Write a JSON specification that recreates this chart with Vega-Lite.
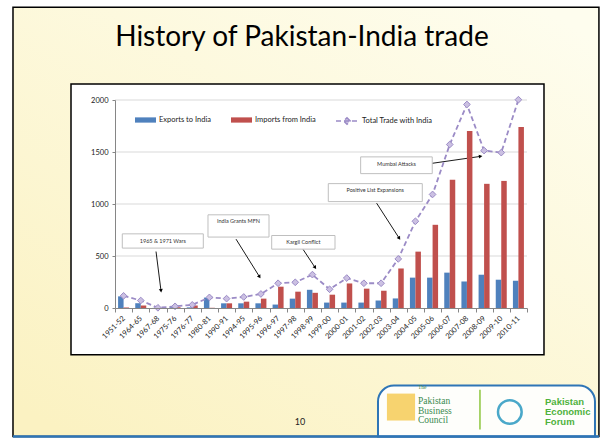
{
  "$schema": "https://vega.github.io/schema/vega-lite/v6.json",
  "width": 412,
  "height": 208,
  "autosize": {"type": "none"},
  "padding": {"left": 115, "top": 100, "right": 75, "bottom": 137},
  "background": "white",
  "config": {"font": "Lato", "view": {"stroke": null}},
  "datasets": {
    "trade": [
      {"year": "1951-52", "exports": 112, "imports": 5, "total": 117},
      {"year": "1964-65", "exports": 46, "imports": 24, "total": 72},
      {"year": "1967-68", "exports": 1, "imports": 1, "total": 2},
      {"year": "1975-76", "exports": 8, "imports": 8, "total": 16},
      {"year": "1976-77", "exports": 6, "imports": 24, "total": 30},
      {"year": "1980-81", "exports": 100, "imports": 2, "total": 102},
      {"year": "1990-91", "exports": 45, "imports": 45, "total": 90},
      {"year": "1994-95", "exports": 45, "imports": 61, "total": 106},
      {"year": "1995-96", "exports": 45, "imports": 90, "total": 135},
      {"year": "1996-97", "exports": 33, "imports": 205, "total": 238},
      {"year": "1997-98", "exports": 90, "imports": 157, "total": 247},
      {"year": "1998-99", "exports": 175, "imports": 146, "total": 321},
      {"year": "1999-00", "exports": 52, "imports": 128, "total": 180},
      {"year": "2000-01", "exports": 52, "imports": 236, "total": 288},
      {"year": "2001-02", "exports": 52, "imports": 186, "total": 238},
      {"year": "2002-03", "exports": 72, "imports": 166, "total": 238},
      {"year": "2003-04", "exports": 92, "imports": 380, "total": 472},
      {"year": "2004-05", "exports": 292, "imports": 542, "total": 834},
      {"year": "2005-06", "exports": 292, "imports": 800, "total": 1092},
      {"year": "2006-07", "exports": 340, "imports": 1232, "total": 1572},
      {"year": "2007-08", "exports": 255, "imports": 1702, "total": 1957},
      {"year": "2008-09", "exports": 320, "imports": 1194, "total": 1514},
      {"year": "2009-10", "exports": 272, "imports": 1222, "total": 1494},
      {"year": "2010-11", "exports": 262, "imports": 1741, "total": 2003}
    ],
    "notes": [
      {"label": "1965 & 1971 Wars", "bx1": 0.425, "bx2": 5.144, "by1": 576, "by2": 713, "tx": 2.785, "ty": 644, "ax1": 2.39, "ay1": 543, "ax2": 2.68, "ay2": 165},
      {"label": "India Grants MFN", "bx1": 5.417, "bx2": 8.971, "by1": 682, "by2": 896, "tx": 7.194, "ty": 838, "ax1": 7.05, "ay1": 662, "ax2": 8.42, "ay2": 300},
      {"label": "Kargil Conflict", "bx1": 9.128, "bx2": 12.816, "by1": 566, "by2": 697, "tx": 10.97, "ty": 637, "ax1": 10.97, "ay1": 560, "ax2": 11.66, "ay2": 388},
      {"label": "Positive List Expansions", "bx1": 12.425, "bx2": 17.9, "by1": 1023, "by2": 1196, "tx": 15.16, "ty": 1133, "ax1": 15.24, "ay1": 1008, "ax2": 16.56, "ay2": 670},
      {"label": "Mumbai Attacks", "bx1": 14.31, "bx2": 18.48, "by1": 1292, "by2": 1453, "tx": 16.4, "ty": 1380, "ax1": 18.51, "ay1": 1392, "ax2": 21.3, "ay2": 1458}
    ],
    "grid": [{"v": 500}, {"v": 1000}, {"v": 1500}, {"v": 2000}],
    "one": [{}]
  },
  "layer": [
    {
      "data": {"name": "one"},
      "layer": [
        {
          "mark": {"type": "rect", "clip": false, "stroke": "#000000", "strokeWidth": 1.5,
            "color": {"gradient": "linear", "x1": 0.9, "y1": 0, "x2": 0.1, "y2": 1, "stops": [{"offset": 0, "color": "#fefdee"}, {"offset": 1, "color": "#fbf2c2"}]}},
          "encoding": {
            "x": {"datum": -5.942, "type": "quantitative", "scale": {"domain": [0, 24], "nice": false, "zero": false}, "axis": null},
            "x2": {"datum": 28.19},
            "y": {"datum": 2893, "type": "quantitative", "scale": {"domain": [0, 2000], "nice": false, "zero": false},
              "axis": {"title": null, "orient": "left", "values": [0, 500, 1000, 1500, 2000], "format": "d", "domain": true, "domainColor": "#868686", "tickSize": 3, "tickColor": "#868686", "labelFontSize": 7.5, "labelColor": "#222222", "labelPadding": 4, "grid": false, "zindex": 1}},
            "y2": {"datum": -1236}
          }
        },
        {
          "mark": {"type": "text", "clip": false, "text": "History of Pakistan-India trade", "fontSize": 28, "color": "#000000", "align": "center", "baseline": "middle"},
          "encoding": {
            "x": {"datum": 10.89, "type": "quantitative"},
            "y": {"datum": 2600, "type": "quantitative"}
          }
        },
        {
          "mark": {"type": "rect", "clip": false, "fill": "#fefefb", "stroke": "#2e75b6", "strokeWidth": 2, "cornerRadiusTopLeft": 16, "cornerRadiusTopRight": 16},
          "encoding": {
            "x": {"datum": 15.32, "type": "quantitative"},
            "x2": {"datum": 27.96},
            "y": {"datum": -746, "type": "quantitative"},
            "y2": {"datum": -1236}
          }
        },
        {
          "mark": {"type": "rule", "clip": false, "color": "#2e75b6", "strokeWidth": 2.5},
          "encoding": {
            "x": {"datum": -5.942, "type": "quantitative"},
            "x2": {"datum": 28.19},
            "y": {"datum": -1236, "type": "quantitative"}
          }
        },
        {
          "mark": {"type": "rule", "clip": false, "color": "#8dc63f", "strokeWidth": 1.5},
          "encoding": {
            "x": {"datum": 21.26, "type": "quantitative"},
            "y": {"datum": -785, "type": "quantitative"},
            "y2": {"datum": -1168}
          }
        },
        {
          "mark": {"type": "rect", "clip": false, "fill": "#f4c440", "opacity": 0.75},
          "encoding": {
            "x": {"datum": 15.84, "type": "quantitative"},
            "x2": {"datum": 17.48},
            "y": {"datum": -823, "type": "quantitative"},
            "y2": {"datum": -1082}
          }
        },
        {
          "mark": {"type": "text", "clip": false, "text": "The", "font": "Liberation Serif", "fontSize": 5.5, "color": "#3a8a4f", "align": "left", "baseline": "bottom"},
          "encoding": {
            "x": {"datum": 17.65, "type": "quantitative"},
            "y": {"datum": -790, "type": "quantitative"}
          }
        },
        {
          "mark": {"type": "text", "clip": false, "text": ["Pakistan", "Business", "Council"], "font": "Liberation Serif", "fontSize": 9.5, "lineHeight": 9.5, "color": "#3a8a4f", "align": "left", "baseline": "top"},
          "encoding": {
            "x": {"datum": 17.65, "type": "quantitative"},
            "y": {"datum": -850, "type": "quantitative"}
          }
        },
        {
          "mark": {"type": "point", "clip": false, "shape": "circle", "filled": false, "stroke": "#4aa8c9", "strokeWidth": 2.5, "size": 560, "opacity": 1},
          "encoding": {
            "x": {"datum": 23.0, "type": "quantitative"},
            "y": {"datum": -1000, "type": "quantitative"}
          }
        },
        {
          "mark": {"type": "text", "clip": false, "text": ["Pakistan", "Economic", "Forum"], "font": "Liberation Sans", "fontWeight": "bold", "fontSize": 9.5, "lineHeight": 10, "color": "#4fb23c", "align": "left", "baseline": "top"},
          "encoding": {
            "x": {"datum": 25.05, "type": "quantitative"},
            "y": {"datum": -852, "type": "quantitative"}
          }
        },
        {
          "mark": {"type": "text", "clip": false, "text": "10", "fontSize": 9, "color": "#222222", "align": "center", "baseline": "middle"},
          "encoding": {
            "x": {"datum": 10.78, "type": "quantitative"},
            "y": {"datum": -1092, "type": "quantitative"}
          }
        },
        {
          "mark": {"type": "rect", "clip": false, "fill": "white", "stroke": "#000000", "strokeWidth": 1.5},
          "encoding": {
            "x": {"datum": -2.5631, "type": "quantitative"},
            "x2": {"datum": 24.99},
            "y": {"datum": 2153.6, "type": "quantitative"},
            "y2": {"datum": -448.4}
          }
        },
        {
          "data": {"name": "grid"},
          "mark": {"type": "rule", "color": "#d9d9d9", "strokeWidth": 1},
          "encoding": {
            "x": {"datum": 0, "type": "quantitative"},
            "x2": {"datum": 24},
            "y": {"field": "v", "type": "quantitative"}
          }
        },
        {
          "data": {"name": "notes"},
          "mark": {"type": "rect", "fill": "white", "stroke": "#bfbfbf", "strokeWidth": 1},
          "encoding": {
            "x": {"field": "bx1", "type": "quantitative"},
            "x2": {"field": "bx2"},
            "y": {"field": "by1", "type": "quantitative"},
            "y2": {"field": "by2"}
          }
        },
        {
          "data": {"name": "notes"},
          "mark": {"type": "text", "fontSize": 5.5, "color": "#333333", "align": "center", "baseline": "middle"},
          "encoding": {
            "x": {"field": "tx", "type": "quantitative"},
            "y": {"field": "ty", "type": "quantitative"},
            "text": {"field": "label"}
          }
        },
        {
          "data": {"name": "notes"},
          "mark": {"type": "rule", "color": "#000000", "strokeWidth": 0.9},
          "encoding": {
            "x": {"field": "ax1", "type": "quantitative"},
            "x2": {"field": "ax2"},
            "y": {"field": "ay1", "type": "quantitative"},
            "y2": {"field": "ay2"}
          }
        },
        {
          "data": {"name": "notes"},
          "transform": [{"calculate": "atan2((datum.ax2 - datum.ax1) * 17.1667, (datum.ay2 - datum.ay1) / 9.615) * 180 / PI", "as": "ang"}],
          "mark": {"type": "point", "shape": "triangle-up", "filled": true, "color": "#000000", "size": 16, "opacity": 1},
          "encoding": {
            "x": {"field": "ax2", "type": "quantitative"},
            "y": {"field": "ay2", "type": "quantitative"},
            "angle": {"field": "ang", "type": "quantitative", "scale": null}
          }
        }
      ]
    },
    {
      "data": {"name": "trade"},
      "layer": [
        {
          "transform": [{"fold": ["exports", "imports"], "as": ["series", "value"]}],
          "mark": {"type": "bar"},
          "encoding": {
            "x": {"field": "year", "type": "nominal", "sort": null,
              "scale": {"paddingInner": 0, "paddingOuter": 0},
              "axis": {"title": null, "orient": "bottom", "domain": true, "domainColor": "#868686", "ticks": true, "tickBand": "extent", "tickSize": 4, "tickColor": "#868686", "labelAngle": -45, "labelAlign": "right", "labelBaseline": "middle", "labelFontSize": 7.5, "labelColor": "#222222", "labelPadding": 5, "labelOverlap": false, "grid": false, "zindex": 1}},
            "xOffset": {"field": "series", "type": "nominal", "scale": {"paddingInner": 0, "paddingOuter": 0.56}},
            "y": {"field": "value", "type": "quantitative", "scale": {"domain": [0, 2000], "nice": false, "zero": false},
              "axis": {"title": null, "orient": "left", "values": [0, 500, 1000, 1500, 2000], "format": "d", "domain": true, "domainColor": "#868686", "tickSize": 3, "tickColor": "#868686", "labelFontSize": 7.5, "labelColor": "#222222", "labelPadding": 4, "grid": false, "zindex": 1}},
            "color": {"field": "series", "type": "nominal",
              "scale": {"domain": ["exports", "imports"], "range": ["#4f81bd", "#c0504d"]},
              "legend": {"title": null, "orient": "none", "legendX": 20, "legendY": 9.5, "direction": "horizontal", "symbolType": "M-1,-0.25H1V0.25H-1Z", "symbolSize": 441, "symbolStrokeWidth": 0, "labelFontSize": 7.5, "labelColor": "#222222", "labelOffset": 3, "columnPadding": 20, "padding": 0,
                "labelExpr": "datum.label == 'exports' ? 'Exports to India' : 'Imports from India'"}}
          }
        },
        {
          "mark": {"type": "line", "color": "#9b8bc6", "strokeWidth": 1.8},
          "encoding": {
            "x": {"field": "year", "type": "nominal", "sort": null},
            "y": {"field": "total", "type": "quantitative"},
            "strokeDash": {"datum": "Total Trade with India", "scale": {"range": [[5, 3]]},
              "legend": {"title": null, "orient": "none", "legendX": 220, "legendY": 9, "symbolType": "M-1,0H1M0,-0.3L0.3,0L0,0.3L-0.3,0Z", "symbolSize": 484, "symbolStrokeColor": "#9b8bc6", "symbolFillColor": "#cbc0e2", "symbolStrokeWidth": 1.5, "labelFontSize": 7.5, "labelColor": "#222222", "labelOffset": 3, "padding": 0}}
          }
        },
        {
          "mark": {"type": "point", "shape": "diamond", "filled": true, "fill": "#cbc0e2", "stroke": "#9b8bc6", "strokeWidth": 1, "size": 45, "opacity": 1},
          "encoding": {
            "x": {"field": "year", "type": "nominal", "sort": null},
            "y": {"field": "total", "type": "quantitative"}
          }
        }
      ]
    }
  ],
  "resolve": {"scale": {"x": "independent"}}
}
